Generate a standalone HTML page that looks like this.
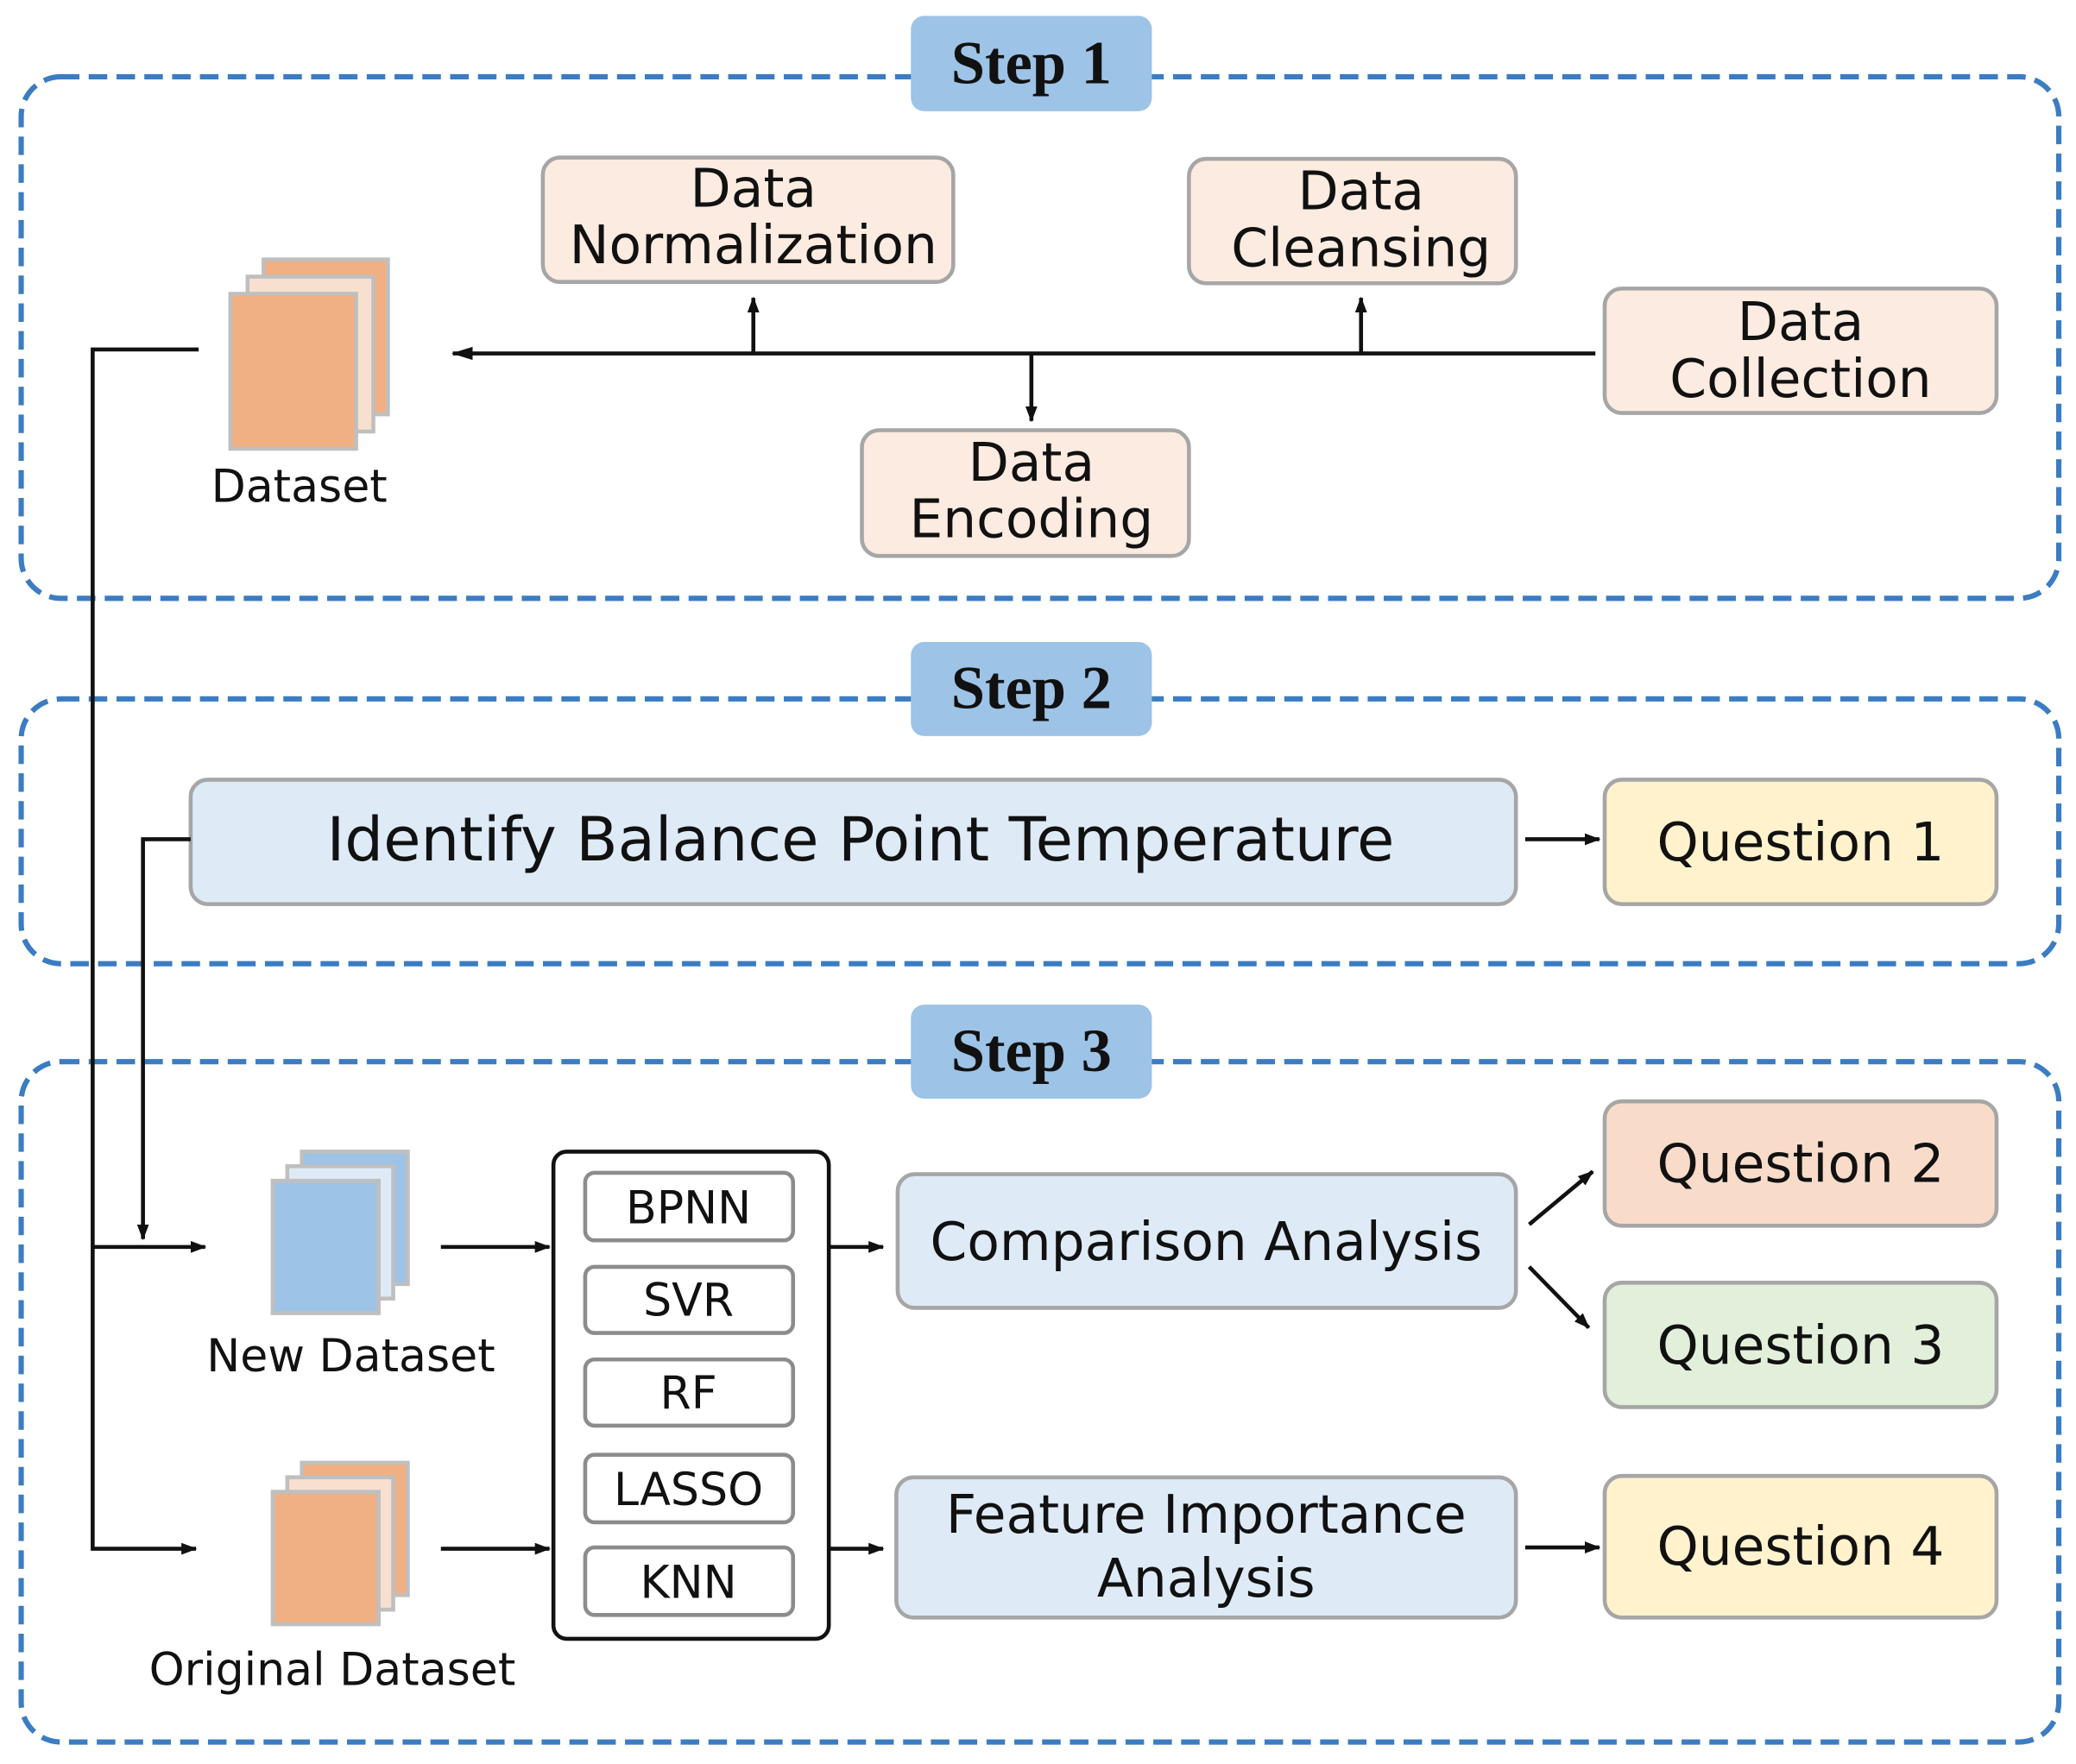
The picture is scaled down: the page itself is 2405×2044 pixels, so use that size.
<!DOCTYPE html>
<html><head><meta charset="utf-8"><style>
html,body{margin:0;padding:0;background:#fff;}
svg{display:block;}
text{font-family:"DejaVu Sans","Liberation Sans",sans-serif;fill:#111;}
.s{font-family:"Liberation Serif",serif;font-weight:bold;font-size:46px;}
</style></head><body>
<svg width="2405" height="2044" viewBox="0 0 1568 1332.6" preserveAspectRatio="none" xmlns="http://www.w3.org/2000/svg">
<defs>
<marker id="a" markerWidth="12" markerHeight="10" refX="11" refY="5" orient="auto" markerUnits="userSpaceOnUse" viewBox="0 0 12 10"><path d="M0,0.5 L12,5 L0,9.5 z" fill="#111"/></marker>
<marker id="b" markerWidth="16" markerHeight="12" refX="15" refY="6" orient="auto" markerUnits="userSpaceOnUse" viewBox="0 0 16 12"><path d="M0,1 L16,6 L0,11 z" fill="#111"/></marker>
</defs>
<g fill="none" stroke="#3b7cc2" stroke-width="4" stroke-dasharray="14,7">
<rect x="16" y="58" width="1539" height="394" rx="30"/>
<rect x="16" y="528" width="1539" height="200" rx="30"/>
<rect x="16" y="802" width="1539" height="514" rx="30"/>
</g>
<g fill="#9dc3e6">
<rect x="688" y="12" width="182" height="72" rx="10"/>
<rect x="688" y="485" width="182" height="71" rx="10"/>
<rect x="688" y="759" width="182" height="71" rx="10"/>
</g>
<text class="s" x="779" y="63" text-anchor="middle">Step 1</text>
<text class="s" x="779" y="535" text-anchor="middle">Step 2</text>
<text class="s" x="779" y="809" text-anchor="middle">Step 3</text>

<g stroke="#a6a6a6" stroke-width="3">
<rect x="410" y="119" width="310" height="94" rx="13" fill="#fcebe0"/>
<rect x="898" y="120" width="247" height="94" rx="13" fill="#fcebe0"/>
<rect x="1212" y="218" width="296" height="94" rx="13" fill="#fcebe0"/>
<rect x="651" y="325" width="247" height="95" rx="13" fill="#fcebe0"/>
<rect x="144" y="589" width="1001" height="94" rx="13" fill="#deebf7"/>
<rect x="1212" y="589" width="296" height="94" rx="13" fill="#fff2cc"/>
<rect x="678" y="887" width="467" height="101" rx="13" fill="#deebf7"/>
<rect x="677" y="1116" width="468" height="106" rx="13" fill="#deebf7"/>
<rect x="1212" y="832" width="296" height="94" rx="13" fill="#f8dcc9"/>
<rect x="1212" y="969" width="296" height="94" rx="13" fill="#e2efda"/>
<rect x="1212" y="1115" width="296" height="107" rx="13" fill="#fff2cc"/>
</g>
<g font-size="40" text-anchor="middle">
<text x="569" y="156">Data</text><text x="569" y="199">Normalization</text>
<text x="1028" y="158">Data</text><text x="1028" y="201">Cleansing</text>
<text x="1360" y="257">Data</text><text x="1360" y="300">Collection</text>
<text x="779" y="363">Data</text><text x="779" y="406">Encoding</text>
<text x="650" y="650" font-size="46">Identify Balance Point Temperature</text>
<text x="1360" y="650">Question 1</text>
<text x="911" y="952">Comparison Analysis</text>
<text x="911" y="1158">Feature Importance</text><text x="911" y="1206">Analysis</text>
<text x="1360" y="893">Question 2</text>
<text x="1360" y="1030">Question 3</text>
<text x="1360" y="1182">Question 4</text>
</g>
<g font-size="34" text-anchor="middle">
<text x="226" y="379">Dataset</text>
<text x="265" y="1036">New Dataset</text>
<text x="251" y="1273">Original Dataset</text>
</g>
<g stroke="#bfbfbf" stroke-width="3">
<rect x="199" y="196" width="94" height="117" fill="#f0b083"/>
<rect x="187" y="209" width="95" height="117" fill="#f8e0d0"/>
<rect x="174" y="222" width="95" height="117" fill="#f0b083"/>
<rect x="228" y="870" width="80" height="100" fill="#9dc3e6"/>
<rect x="217" y="881" width="80" height="100" fill="#deebf7"/>
<rect x="206" y="892" width="80" height="100" fill="#9dc3e6"/>
<rect x="228" y="1105" width="80" height="100" fill="#f0b083"/>
<rect x="217" y="1116" width="80" height="100" fill="#f8e0d0"/>
<rect x="206" y="1127" width="80" height="100" fill="#f0b083"/>
</g>
<rect x="418" y="870" width="208" height="368" rx="10" fill="#fff" stroke="#111" stroke-width="3"/>
<g stroke="#8c8c8c" stroke-width="3" fill="#fff">
<rect x="442" y="886" width="157" height="51" rx="7"/>
<rect x="442" y="957" width="157" height="50" rx="7"/>
<rect x="442" y="1027" width="157" height="50" rx="7"/>
<rect x="442" y="1099" width="157" height="51" rx="7"/>
<rect x="442" y="1169" width="157" height="51" rx="7"/>
</g>
<g font-size="34" text-anchor="middle">
<text x="520" y="924">BPNN</text>
<text x="520" y="994">SVR</text>
<text x="520" y="1064">RF</text>
<text x="520" y="1137">LASSO</text>
<text x="520" y="1207">KNN</text>
</g>
<g stroke="#111" stroke-width="3" fill="none">
<path d="M1205 267 H342" marker-end="url(#b)"/>
<path d="M569 267 V225" marker-end="url(#a)"/>
<path d="M1028 267 V225" marker-end="url(#a)"/>
<path d="M779 267 V318" marker-end="url(#a)"/>
<path d="M150 264 H70 V1170 H148" marker-end="url(#a)"/>
<path d="M70 942 H155" marker-end="url(#a)"/>
<path d="M144 634 H108 V936" marker-end="url(#a)"/>
<path d="M1152 634 H1208" marker-end="url(#a)"/>
<path d="M333 942 H415" marker-end="url(#a)"/>
<path d="M333 1170 H415" marker-end="url(#a)"/>
<path d="M626 942 H667" marker-end="url(#a)"/>
<path d="M626 1170 H667" marker-end="url(#a)"/>
<path d="M1155 925 L1203 885" marker-end="url(#a)"/>
<path d="M1155 957 L1200 1003" marker-end="url(#a)"/>
<path d="M1152 1169 H1208" marker-end="url(#a)"/>
</g>
</svg>
</body></html>
